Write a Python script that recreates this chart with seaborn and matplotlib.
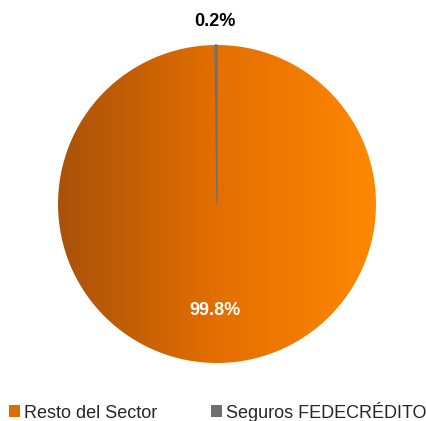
import matplotlib.pyplot as plt
import matplotlib.colors as mcolors
from matplotlib.patches import Patch
import seaborn as sns
import numpy as np

# data
categories = ['Resto del Sector', 'Seguros FEDECRÉDITO']
shares = [99.8, 0.2]
labels = ['99.8%', '0.2%']

sns.set_style('white')
plt.rcParams['font.family'] = ['Liberation Sans', 'DejaVu Sans']

fig = plt.figure(figsize=(4.27, 4.21), dpi=100)
ax = fig.add_axes([58 / 427, (421 - 363) / 421, 318 / 427, 318 / 421])

wedges, _ = ax.pie(shares, startangle=90, counterclock=False, radius=1,
                   colors=['none', '#707070'],
                   wedgeprops=dict(linewidth=0))
wedges[1].set_edgecolor('#707070')
wedges[1].set_linewidth(1.0)

# orange gradient, dark on the left to bright on the right
cmap = mcolors.LinearSegmentedColormap.from_list('org', ['#a9520a', '#e46e00', '#ff8800'])
grad = np.linspace(0, 1, 256).reshape(1, -1)
im = ax.imshow(grad, cmap=cmap, extent=[-1, 1, -1, 1], aspect='auto', zorder=1)
im.set_clip_path(wedges[0])
wedges[1].set_zorder(2)

ax.set_xlim(-1, 1)
ax.set_ylim(-1, 1)
ax.axis('off')

# value labels
ax.text(-0.01, -0.667, labels[0], color='white', fontsize=13, fontweight='bold',
        ha='center', va='center', zorder=3)
ax.text(-0.01, 1.145, labels[1], color='black', fontsize=13, fontweight='bold',
        ha='center', va='center', zorder=3, clip_on=False)

handles = [Patch(facecolor='#e06c00', edgecolor='none'),
           Patch(facecolor='#6e6e6e', edgecolor='none')]
fig.legend(handles, categories, loc='lower center', bbox_to_anchor=(0.51, -0.04),
           ncol=2, frameon=False, fontsize=13, handlelength=0.6, handleheight=0.6,
           handletextpad=0.2, columnspacing=3.0)

fig.savefig('out.png', dpi=100)
